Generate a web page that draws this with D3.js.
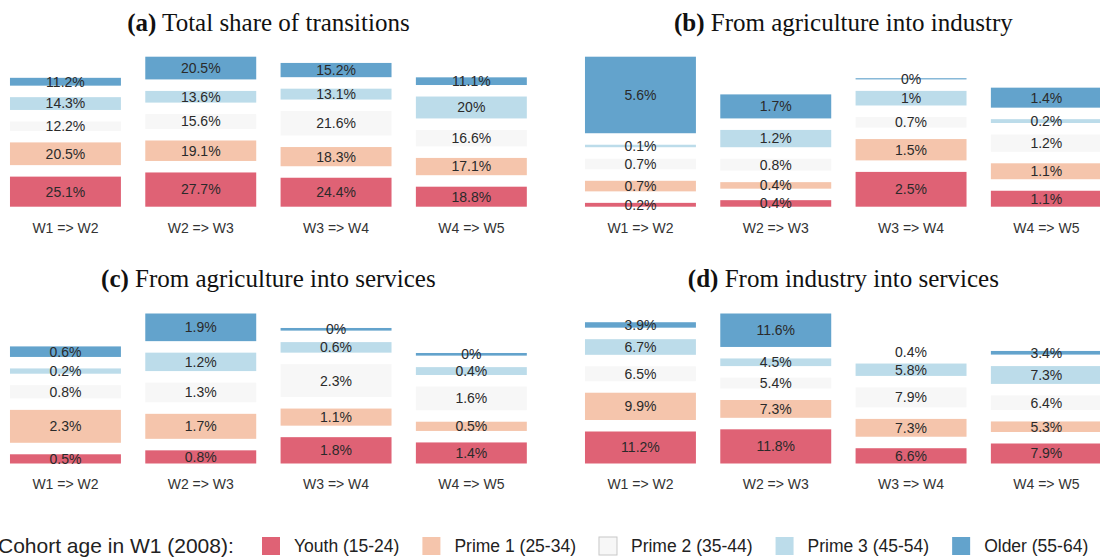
<!DOCTYPE html>
<html>
<head>
<meta charset="utf-8">
<script src="https://cdn.jsdelivr.net/npm/d3@7"></script>
<style>
  body { margin: 0; background: #fff; }
  svg { display: block; }
</style>
</head>
<body>
<script>
// categories
const transitions = ['W1 => W2', 'W2 => W3', 'W3 => W4', 'W4 => W5'];
const cohorts = ['Youth (15-24)', 'Prime 1 (25-34)', 'Prime 2 (35-44)', 'Prime 3 (45-54)', 'Older (55-64)'];
const cohortColors = ['#df6275', '#f5c5ac', '#f7f7f7', '#bcdcea', '#63a3cc'];

// one row per transition, one value per cohort (youth -> older), in %
const totalShare = [
  [25.1, 20.5, 12.2, 14.3, 11.2],
  [27.7, 19.1, 15.6, 13.6, 20.5],
  [24.4, 18.3, 21.6, 13.1, 15.2],
  [18.8, 17.1, 16.6, 20, 11.1],
];
const agriToIndustry = [
  [0.2, 0.7, 0.7, 0.1, 5.6],
  [0.4, 0.4, 0.8, 1.2, 1.7],
  [2.5, 1.5, 0.7, 1, 0],
  [1.1, 1.1, 1.2, 0.2, 1.4],
];
const agriToServices = [
  [0.5, 2.3, 0.8, 0.2, 0.6],
  [0.8, 1.7, 1.3, 1.2, 1.9],
  [1.8, 1.1, 2.3, 0.6, 0],
  [1.4, 0.5, 1.6, 0.4, 0],
];
const industryToServices = [
  [11.2, 9.9, 6.5, 6.7, 3.9],
  [11.8, 7.3, 5.4, 4.5, 11.6],
  [6.6, 7.3, 7.9, 5.8, 0.4],
  [7.9, 5.3, 6.4, 7.3, 3.4],
];

const panelTags = ['(a)', '(b)', '(c)', '(d)'];
const panelTitles = ['Total share of transitions', 'From agriculture into industry',
  'From agriculture into services', 'From industry into services'];
// value where a segment's height starts, per panel
const panelBase = [6.3, -0.085, -0.2, 2.4];

const width = 1100;
const height = 559;
const bandWidth = 541.2;
const plotH = 150;
const gap = 11.5;

const svg = d3.select('body').append('svg')
  .attr('width', width)
  .attr('height', height);

const panels = [
  { data: totalShare, left: -2.2, bottom: 206.7, titleY: 22 },
  { data: agriToIndustry, left: 572.8, bottom: 206.7, titleY: 22 },
  { data: agriToServices, left: -2.2, bottom: 463.5, titleY: 278 },
  { data: industryToServices, left: 572.8, bottom: 463.5, titleY: 278 },
];

const x = d3.scaleBand()
  .domain(transitions)
  .range([0, bandWidth])
  .paddingInner(0.18)
  .paddingOuter(0.09);

panels.forEach((p, i) => {
  const base = panelBase[i];
  const adj = p.data.map(row => row.map(v => Math.max(0, v - base)));
  const maxAdj = d3.max(adj, row => d3.sum(row));

  // height of each segment in px
  const h = d3.scaleLinear()
    .domain([0, maxAdj])
    .range([0, plotH - gap * (cohorts.length - 1)]);

  const g = svg.append('g')
    .attr('transform', `translate(${p.left},0)`);

  // title
  const title = g.append('text')
    .attr('x', bandWidth / 2)
    .attr('y', p.titleY)
    .attr('dy', '0.35em')
    .attr('text-anchor', 'middle')
    .style('font-family', '"Liberation Serif", serif')
    .style('font-size', '25px')
    .style('fill', '#111');
  title.append('tspan').style('font-weight', 'bold').text(panelTags[i]);
  title.append('tspan').text(' ' + panelTitles[i]);

  transitions.forEach((t, j) => {
    let y = p.bottom;
    const segs = [];
    adj[j].forEach((a, k) => {
      const sh = h(a);
      segs.push({ y0: y - sh, h: sh, color: cohortColors[k], label: p.data[j][k] + '%' });
      y -= sh + gap;
    });

    const bar = g.append('g');
    bar.selectAll('rect')
      .data(segs.filter(s => s.h > 0))
      .enter().append('rect')
      .attr('x', x(t))
      .attr('width', x.bandwidth())
      .attr('y', s => s.y0)
      .attr('height', s => s.h)
      .style('fill', s => s.color);

    bar.selectAll('text')
      .data(segs)
      .enter().append('text')
      .attr('x', x(t) + x.bandwidth() / 2)
      .attr('y', s => s.y0 + s.h / 2)
      .attr('dy', '0.35em')
      .attr('text-anchor', 'middle')
      .style('font-family', '"Liberation Sans", Arial, sans-serif')
      .style('font-size', '14px')
      .style('fill', '#2a2a2a')
      .text(s => s.label);
  });

  // x axis labels
  const axis = g.append('g')
    .attr('transform', `translate(0,${p.bottom + 21})`)
    .call(d3.axisBottom(x).tickSize(0).tickPadding(0));
  axis.select('.domain').remove();
  axis.selectAll('text')
    .attr('dy', '0.35em')
    .style('font-family', '"Liberation Sans", Arial, sans-serif')
    .style('font-size', '14px')
    .style('fill', '#333');
});

// legend
const legend = svg.append('g').attr('transform', 'translate(0,546)');
legend.append('text')
  .attr('x', -2)
  .attr('dy', '0.35em')
  .style('font-family', '"Liberation Sans", Arial, sans-serif')
  .style('font-size', '21px')
  .style('fill', '#222')
  .text('Cohort age in W1 (2008):');

let lx = 262;
cohorts.forEach((c, k) => {
  legend.append('rect')
    .attr('x', lx)
    .attr('y', -9)
    .attr('width', 18)
    .attr('height', 18)
    .style('fill', cohortColors[k])
    .style('stroke', k === 2 ? '#c8c8c8' : 'none')
    .style('stroke-width', 1);
  const txt = legend.append('text')
    .attr('x', lx + 32)
    .attr('dy', '0.35em')
    .style('font-family', '"Liberation Sans", Arial, sans-serif')
    .style('font-size', '17.5px')
    .style('fill', '#222')
    .text(c);
  lx += 32 + txt.node().getComputedTextLength() + 23;
});
</script>
</body>
</html>
